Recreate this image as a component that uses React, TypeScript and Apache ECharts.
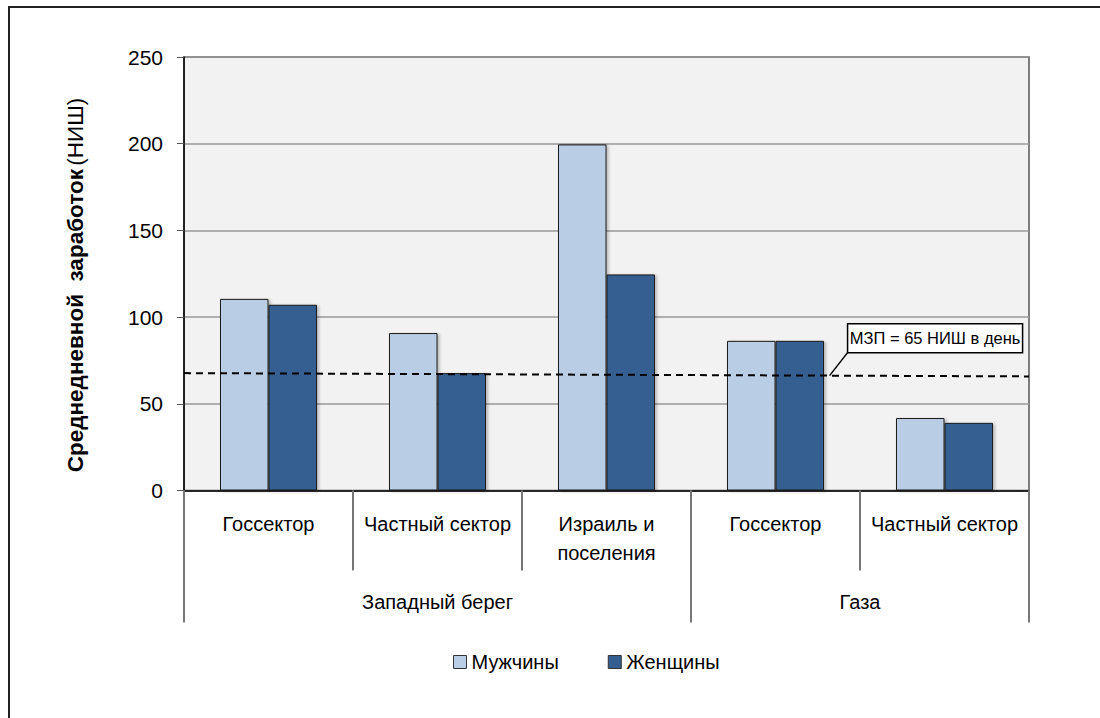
import React, { useEffect, useRef } from "react";
import * as echarts from "echarts";

const subCategories = ["Госсектор", "Частный сектор", "Израиль и\nпоселения", "Госсектор", "Частный сектор"];
const groupNames = ["Западный берег", "Газа"];
const groupSpans = [3, 2];
const menValues = [110.5, 90.8, 199.6, 86.3, 41.8];
const womenValues = [107.1, 67.7, 124.6, 86.3, 39.0];
const minWageLine = [67.7, 65.8];
const minWageLabel = "МЗП = 65 НИШ в день";
const yTicks = { min: 0, max: 250, interval: 50 };
const seriesNames = ["Мужчины", "Женщины"];
const yTitleBold = "Среднедневной  заработок";
const yTitleUnit = "(НИШ)";

const SANS = '"Liberation Sans",Arial,sans-serif';

export default function App() {
  const ref = useRef<HTMLDivElement>(null);
  useEffect(() => {
    if (!ref.current) return;
    const chart = echarts.init(ref.current, null, { renderer: "svg" });
    const total = groupSpans.reduce((a, b) => a + b, 0);
    const bounds: number[] = [0];
    const centers: number[] = [];
    let acc = 0;
    groupSpans.forEach((s) => {
      centers.push(acc + s / 2);
      acc += s;
      bounds.push(acc);
    });
    const centerLabel = (v: number) => {
      const i = centers.findIndex((c) => Math.abs(c - v) < 1e-6);
      return i >= 0 ? groupNames[i] : "";
    };
    const barStyle = (color: string) => ({
      color,
      borderColor: "#1a1a1a",
      borderWidth: 1,
      shadowColor: "rgba(0,0,0,0.25)",
      shadowBlur: 3,
      shadowOffsetX: 2,
      shadowOffsetY: 1,
    });
    chart.setOption({
      animation: false,
      textStyle: { fontFamily: SANS },
      grid: {
        left: 184,
        top: 57,
        width: 845,
        height: 433.5,
        show: true,
        backgroundColor: "#f2f2f2",
        borderColor: "#555",
        borderWidth: 1.5,
      },
      legend: {
        left: 448,
        top: 647,
        icon: "rect",
        itemWidth: 13,
        itemHeight: 13,
        itemGap: 49,
        itemStyle: { borderColor: "#333", borderWidth: 1 },
        textStyle: { fontSize: 20, fontFamily: SANS, color: "#000" },
        data: seriesNames,
      },
      xAxis: [
        {
          type: "category",
          data: subCategories,
          position: "bottom",
          axisLine: { show: true, lineStyle: { color: "#000", width: 1.5 } },
          axisTick: { show: true, interval: 0, length: 80, lineStyle: { color: "#777", width: 2 } },
          axisLabel: {
            interval: 0,
            margin: 19,
            fontSize: 20,
            lineHeight: 29,
            fontFamily: SANS,
            color: "#000",
          },
          splitLine: { show: false },
        },
        {
          type: "value",
          min: 0,
          max: total,
          position: "bottom",
          axisLine: { show: false },
          axisTick: { show: true, customValues: bounds, length: 132, lineStyle: { color: "#777", width: 2 } },
          axisLabel: {
            show: true,
            customValues: centers,
            formatter: (v: number) => centerLabel(v),
            margin: 101,
            fontSize: 20,
            fontFamily: SANS,
            color: "#000",
          },
          splitLine: { show: false },
        },
      ],
      yAxis: {
        type: "value",
        min: yTicks.min,
        max: yTicks.max,
        interval: yTicks.interval,
        axisLine: { show: true, lineStyle: { color: "#000", width: 1.5 } },
        axisTick: { show: true, length: 7, lineStyle: { color: "#555" } },
        axisLabel: { margin: 21, fontSize: 21, fontFamily: SANS, color: "#000" },
        splitLine: { show: true, lineStyle: { color: "#999", width: 1.5 } },
      },
      series: [
        {
          name: seriesNames[0],
          type: "bar",
          data: menValues,
          barGap: "0%",
          barCategoryGap: "42.6%",
          itemStyle: barStyle("#b9cde5"),
        },
        {
          name: seriesNames[1],
          type: "bar",
          data: womenValues,
          itemStyle: barStyle("#355f91"),
        },
        {
          name: "МЗП",
          type: "line",
          xAxisIndex: 1,
          data: [
            [0, minWageLine[0]],
            [total, minWageLine[1]],
          ],
          symbol: "none",
          lineStyle: { color: "#000", width: 2, type: [7, 5] },
          z: 5,
          silent: true,
        },
      ],
    });

    const anchorX = 3.82;
    const anchorY = minWageLine[0] + ((minWageLine[1] - minWageLine[0]) * anchorX) / total;
    const p = chart.convertToPixel({ xAxisIndex: 1, yAxisIndex: 0 }, [anchorX, anchorY]) as number[];
    const boxX = p[0] + 18;
    const boxBottom = p[1] - 23;
    const boxW = 175;
    const boxH = 29;
    chart.setOption({
      graphic: [
        {
          type: "rect",
          silent: true,
          shape: { x: 9, y: 7, width: 1200, height: 800 },
          style: { fill: "none", stroke: "#222", lineWidth: 2 },
        },
        {
          type: "text",
          x: 75,
          y: 285,
          rotation: Math.PI / 2,
          style: {
            text: `{b|${yTitleBold}} {n|${yTitleUnit}}`,
            align: "center",
            verticalAlign: "middle",
            rich: {
              b: { fontWeight: "bold", fontSize: 22.5, fontFamily: SANS, fill: "#000" },
              n: { fontSize: 22.5, fontFamily: SANS, fill: "#000" },
            },
          },
        },
        {
          type: "line",
          shape: { x1: p[0], y1: p[1], x2: boxX, y2: boxBottom },
          style: { stroke: "#000", lineWidth: 1.5 },
          z: 10,
        },
        {
          type: "rect",
          shape: { x: boxX, y: boxBottom - boxH, width: boxW, height: boxH },
          style: { fill: "#fff", stroke: "#000", lineWidth: 1.5 },
          z: 10,
        },
        {
          type: "text",
          x: boxX + boxW / 2,
          y: boxBottom - boxH / 2,
          style: {
            text: minWageLabel,
            align: "center",
            verticalAlign: "middle",
            fontSize: 16.5,
            fontFamily: SANS,
            fill: "#000",
          },
          z: 11,
        },
      ],
    });
    return () => chart.dispose();
  }, []);
  return (
    <div
      ref={ref}
      style={{ position: "absolute", left: 0, top: 0, width: 1100, height: 718, background: "#fff" }}
    />
  );
}
